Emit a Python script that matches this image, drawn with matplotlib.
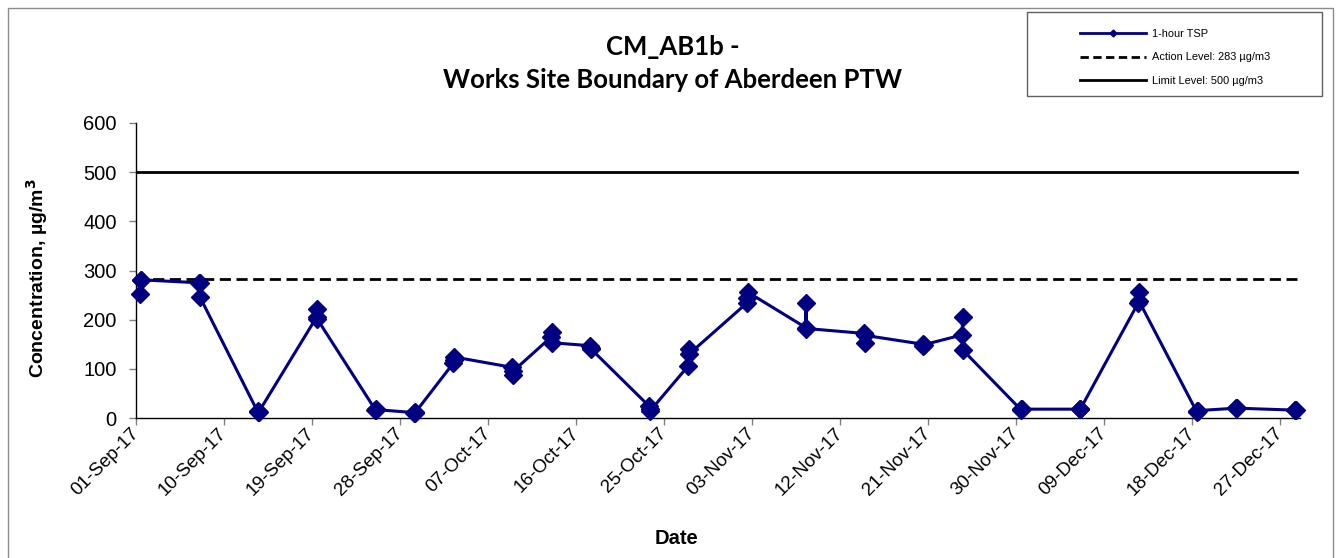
import matplotlib
matplotlib.use('Agg')
import matplotlib.pyplot as plt
import matplotlib.dates as mdates
from matplotlib.lines import Line2D
from matplotlib.patches import Rectangle
import datetime as dt

# ---------------- data ----------------
sample_days = ['2017-09-01', '2017-09-07', '2017-09-13', '2017-09-19', '2017-09-25',
               '2017-09-29', '2017-10-03', '2017-10-09', '2017-10-13', '2017-10-17',
               '2017-10-23', '2017-10-27', '2017-11-02', '2017-11-08', '2017-11-14',
               '2017-11-20', '2017-11-24', '2017-11-30', '2017-12-06', '2017-12-12',
               '2017-12-18', '2017-12-22', '2017-12-28']
sample_hours = [11, 12, 13]
tsp_values = [
    [252, 281, 281],
    [275, 274, 246],
    [12, 14, 12],
    [205, 222, 201],
    [17, 18, 17],
    [11, 12, 11],
    [112, 118, 124],
    [103, 88, 95],
    [165, 175, 153],
    [147, 143, 140],
    [24, 18, 14],
    [106, 140, 130],
    [234, 244, 256],
    [184, 234, 182],
    [172, 153, 168],
    [150, 147, 149],
    [169, 206, 138],
    [17, 18, 18],
    [18, 18, 18],
    [234, 256, 238],
    [12, 14, 15],
    [20, 20, 20],
    [16, 16, 16],
]
action_level = 283
limit_level = 500
x_start = '2017-09-01'
x_end = '2017-12-29'
tick_step_days = 9
y_ticks = [0, 100, 200, 300, 400, 500, 600]

title_lines = ['CM_AB1b -', 'Works Site Boundary of Aberdeen PTW']
legend_labels = ['1-hour TSP', 'Action Level: 283 µg/m3', 'Limit Level: 500 µg/m3']

# ---------------- build series ----------------
times, vals = [], []
for d, vs in zip(sample_days, tsp_values):
    base = dt.datetime.strptime(d, '%Y-%m-%d')
    for h, v in zip(sample_hours, vs):
        times.append(base + dt.timedelta(hours=h))
        vals.append(v)

xs = dt.datetime.strptime(x_start, '%Y-%m-%d')
xe = dt.datetime.strptime(x_end, '%Y-%m-%d')
ticks = []
t = xs
while t <= xe:
    ticks.append(t)
    t += dt.timedelta(days=tick_step_days)

W, H = 1336, 558
fig = plt.figure(figsize=(W / 100, H / 100), dpi=100)
fig.patch.set_facecolor('white')

# outer border
fig.add_artist(Rectangle((8 / W, -0.01), (1333 - 8) / W, 1 - 8 / H + 0.01,
                         transform=fig.transFigure, fill=False,
                         edgecolor='#8c8c8c', linewidth=1.0))

ax = fig.add_axes([136 / W, 1 - 418 / H, (1300 - 136) / W, (418 - 123) / H])
navy = '#000080'

ax.axhline(limit_level, xmin=0, xmax=0.997, color='black', linewidth=2.0)
ax.axhline(action_level, xmin=0, xmax=0.997, color='black', linewidth=2.0,
           linestyle=(0, (4, 2)))
ax.plot(times, vals, color=navy, linewidth=2.2, marker='D', markersize=9,
        markerfacecolor=navy, markeredgecolor=navy, clip_on=False, zorder=3)

ax.set_xlim(xs, xe)
ax.set_ylim(0, 600)
ax.set_yticks(y_ticks)
ax.set_xticks(ticks)
ax.xaxis.set_major_formatter(mdates.DateFormatter('%d-%b-%y'))

for s in ['top', 'right']:
    ax.spines[s].set_visible(False)
for s in ['left', 'bottom']:
    ax.spines[s].set_color('black')
    ax.spines[s].set_linewidth(1.0)

ax.tick_params(axis='both', direction='out', length=5, width=1, color='#808080',
               labelsize=13.5, labelcolor='black')
ax.tick_params(axis='y', pad=9, labelsize=14.5)
ax.tick_params(axis='x', pad=4)
for lab in ax.get_yticklabels() + ax.get_xticklabels():
    lab.set_fontfamily('Liberation Sans')
for lab in ax.get_xticklabels():
    lab.set_rotation(45)
    lab.set_ha('right')
    lab.set_va('center')
    lab.set_rotation_mode('anchor')

# axis titles
fig.text(37 / W, 1 - 278 / H, 'Concentration, µg/m$^{\\mathbf{3}}$', rotation=90,
         ha='center', va='center', fontsize=14, fontweight='bold',
         family='Liberation Sans')
fig.text(676 / W, 1 - 538 / H, 'Date', ha='center', va='center', fontsize=14.5,
         fontweight='bold', family='Liberation Sans')

# title
fig.text(673 / W, 1 - 47 / H, title_lines[0], ha='center', va='center',
         fontsize=18.5, fontweight='bold', family='Lato')
fig.text(673 / W, 1 - 80 / H, title_lines[1], ha='center', va='center',
         fontsize=18.5, fontweight='bold', family='Lato')

# legend
fig.add_artist(Rectangle((1027 / W, 1 - 96 / H), (1322 - 1027) / W, (96 - 12) / H,
                         transform=fig.transFigure, fill=False,
                         edgecolor='#606060', linewidth=1.0))
handles = [
    Line2D([], [], color=navy, linewidth=2.0, marker='D', markersize=3.5),
    Line2D([], [], color='black', linewidth=2.0, linestyle=(0, (3, 1.6))),
    Line2D([], [], color='black', linewidth=2.0),
]
leg = fig.legend(handles, legend_labels, loc='upper left',
                 bbox_to_anchor=(1071 / W, 1 - 20 / H), frameon=False,
                 prop={'family': 'Liberation Sans', 'size': 7.9},
                 handlelength=6.0, handletextpad=0.6, labelspacing=1.25,
                 borderpad=0.3)

fig.savefig('out.png', dpi=100)
